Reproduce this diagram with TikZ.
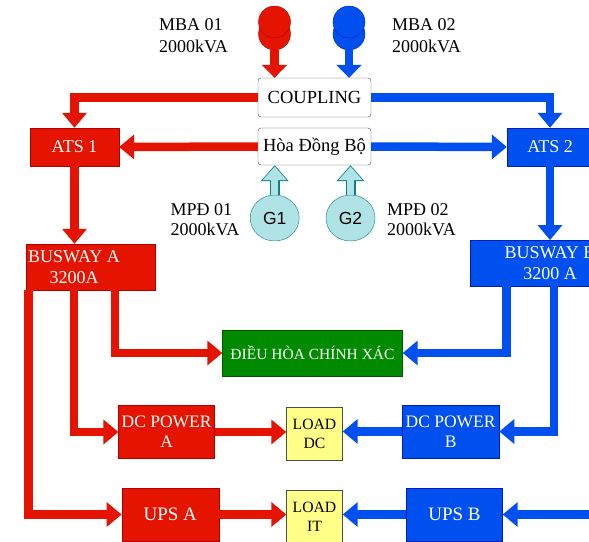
\documentclass[tikz,border=0pt]{standalone}
\usepackage{fontspec}
\setmainfont{Liberation Serif}
\setsansfont{Liberation Sans}
\usetikzlibrary{arrows.meta,shapes.geometric}

\definecolor{mred}{HTML}{E51400}
\definecolor{mredD}{HTML}{B20000}
\definecolor{mblue}{HTML}{0050EF}
\definecolor{mblueD}{HTML}{001DBC}
\definecolor{mgreen}{HTML}{008A00}
\definecolor{mgreenD}{HTML}{005700}
\definecolor{mload}{HTML}{FFFF88}
\definecolor{mgen}{HTML}{B0E3E6}
\definecolor{mgenD}{HTML}{0E8088}

\tikzset{
	redbox/.style = {draw=mredD, fill=mred, text=white, inner sep=0pt, align=center},
	bluebox/.style = {draw=mblueD, fill=mblue, text=white, inner sep=0pt, align=center},
	swbox/.style = {draw=black!70, rounded corners=3pt, fill=white, inner sep=0pt, minimum width=113pt, font=\fontsize{18.5}{22}\selectfont},
	loadbox/.style = {draw=black!70, fill=mload, inner sep=0pt, minimum width=56pt, minimum height=53pt, align=center, font=\fontsize{15.7}{18.7}\selectfont},
	genbox/.style = {ellipse, draw=mgenD, fill=mgen, inner sep=0pt, minimum width=49pt, minimum height=46pt, font=\sffamily\fontsize{17.5}{20}\selectfont},
	redfeed/.style = {draw=mred, line width=8.5pt, -{Triangle[length=15pt, width=24pt]}},
	bluefeed/.style = {draw=mblue, line width=8.5pt, -{Triangle[length=15pt, width=24pt]}},
	lbl/.style = {anchor=north west, inner sep=0pt, align=left, font=\fontsize{18}{22}\selectfont}
}

\begin{document}
\begin{tikzpicture}[x=1pt, y=-1pt]
	\path[use as bounding box] (0, 0) rectangle (589, 541);
	\clip (0, 0) rectangle (589, 541);

	% transformers and generators
	\foreach \n/\x/\f/\d in {mba1/274.5/mred/mredD, mba2/349/mblue/mblueD} {
		\node[circle, minimum size=32pt, inner sep=0pt, fill=\f, draw=\d] (\n) at (\x, 34) {};
		\node[circle, minimum size=32pt, inner sep=0pt, fill=\f, draw=\d] (top\n) at (\x, 22) {};
	}
	\foreach \g/\x/\t in {g1/274.7/G1, g2/350.5/G2} {
		\node[genbox] (\g) at (\x, 218) {\t};
	}

	\node[lbl] (mba1txt) at (159, 18) {MBA 01\\2000kVA};
	\node[lbl] (mba2txt) at (392, 18) {MBA 02\\2000kVA};
	\node[lbl, font=\fontsize{18}{20.5}\selectfont] (mpd1txt) at (170.5, 203) {MPĐ 01\\2000kVA};
	\node[lbl, font=\fontsize{18}{20.5}\selectfont] (mpd2txt) at (387, 203) {MPĐ 02\\2000kVA};

	\node[swbox, minimum height=39pt] (coupling) at (314.5, 97.5) {COUPLING};
	\node[swbox, minimum height=37pt] (hoa) at (314.5, 146.5) {Hòa Đồng Bộ};

	\node[redbox, minimum width=89pt, minimum height=38pt, font=\fontsize{18}{21}\selectfont] (ats1) at (74.5, 147) {ATS 1};
	\node[bluebox, minimum width=86pt, minimum height=38pt, font=\fontsize{18}{21}\selectfont] (ats2) at (550, 147) {ATS 2};

	\node[redbox, minimum width=129pt, minimum height=46pt] (busA) at (90.5, 267) {};
	\node[text=white, inner sep=0pt, align=center, font=\fontsize{18}{21}\selectfont] (busAtxt) at (74, 267) {BUSWAY A\\3200A};
	\node[bluebox, minimum width=160pt, minimum height=45.5pt, font=\fontsize{18}{21}\selectfont] (busB) at (550, 263) {BUSWAY B\\3200 A};

	\node[draw=mgreenD, fill=mgreen, text=white, inner sep=0pt, minimum width=180pt, minimum height=46pt, font=\fontsize{15.5}{18}\selectfont] (dieu) at (312.5, 353) {ĐIỀU HÒA CHÍNH XÁC};

	\node[redbox, minimum width=96pt, minimum height=53pt, font=\fontsize{17.5}{20}\selectfont] (dcA) at (166.6, 432) {DC POWER\\A};
	\node[loadbox] (loadDC) at (314.5, 434) {LOAD\\DC};
	\node[bluebox, minimum width=97pt, minimum height=53pt, font=\fontsize{17.5}{20}\selectfont] (dcB) at (450.6, 431.5) {DC POWER\\B};

	\node[redbox, minimum width=97pt, minimum height=53pt, font=\fontsize{19}{22}\selectfont] (upsA) at (170.3, 514.5) {UPS A};
	\node[loadbox] (loadIT) at (314.5, 517) {LOAD\\IT};
	\node[bluebox, minimum width=96pt, minimum height=53pt, font=\fontsize{19}{22}\selectfont] (upsB) at (454.5, 514.5) {UPS B};

	\coordinate (feedB) at (600, 514.5);

	% feeders
	\draw[redfeed, -{Triangle[length=13pt, width=25pt]}] (mba1.south) -- (mba1.south |- coupling.north);
	\draw[bluefeed, -{Triangle[length=13pt, width=25pt]}] (mba2.south) -- (mba2.south |- coupling.north);
	\draw[redfeed] (coupling.west) -| (ats1.north);
	\draw[bluefeed] (coupling.east) -| (ats2.north);
	\draw[redfeed] (hoa.west) -- (ats1.east);
	\draw[bluefeed] (hoa.east) -- (ats2.west);
	\draw[redfeed] (ats1.south) -- (ats1.south |- busA.north);
	\draw[bluefeed] (ats2.south) -- (ats2.south |- busB.north);

	\draw[redfeed] ([xshift=24.5pt]busA.south) |- (dieu.west);
	\draw[redfeed] ([xshift=-16.5pt]busA.south) |- (dcA.west);
	\draw[redfeed] ([xshift=-62pt]busA.south) |- (upsA.west);
	\draw[bluefeed] ([xshift=-43.5pt]busB.south) |- (dieu.east);
	\draw[bluefeed] ([xshift=4pt]busB.south) |- (dcB.east);
	\draw[bluefeed] (feedB) -- (upsB.east);

	\draw[redfeed] (dcA.east) -- (dcA.east -| loadDC.west);
	\draw[redfeed] (upsA.east) -- (upsA.east -| loadIT.west);
	\draw[bluefeed] (dcB.west) -- (dcB.west -| loadDC.east);
	\draw[bluefeed] (upsB.west) -- (upsB.west -| loadIT.east);

	% generator feeds
	\foreach \g in {g1, g2} {
		\draw[draw=mgenD, line width=10pt, -{Triangle[length=16pt, width=27pt]}] (\g.north) -- (\g.north |- hoa.south);
		\draw[draw=mgen, line width=7.5pt, -{Triangle[length=13.5pt, width=23pt]}, shorten >=1.3pt] (\g.north) -- (\g.north |- hoa.south);
	}
\end{tikzpicture}
\end{document}
